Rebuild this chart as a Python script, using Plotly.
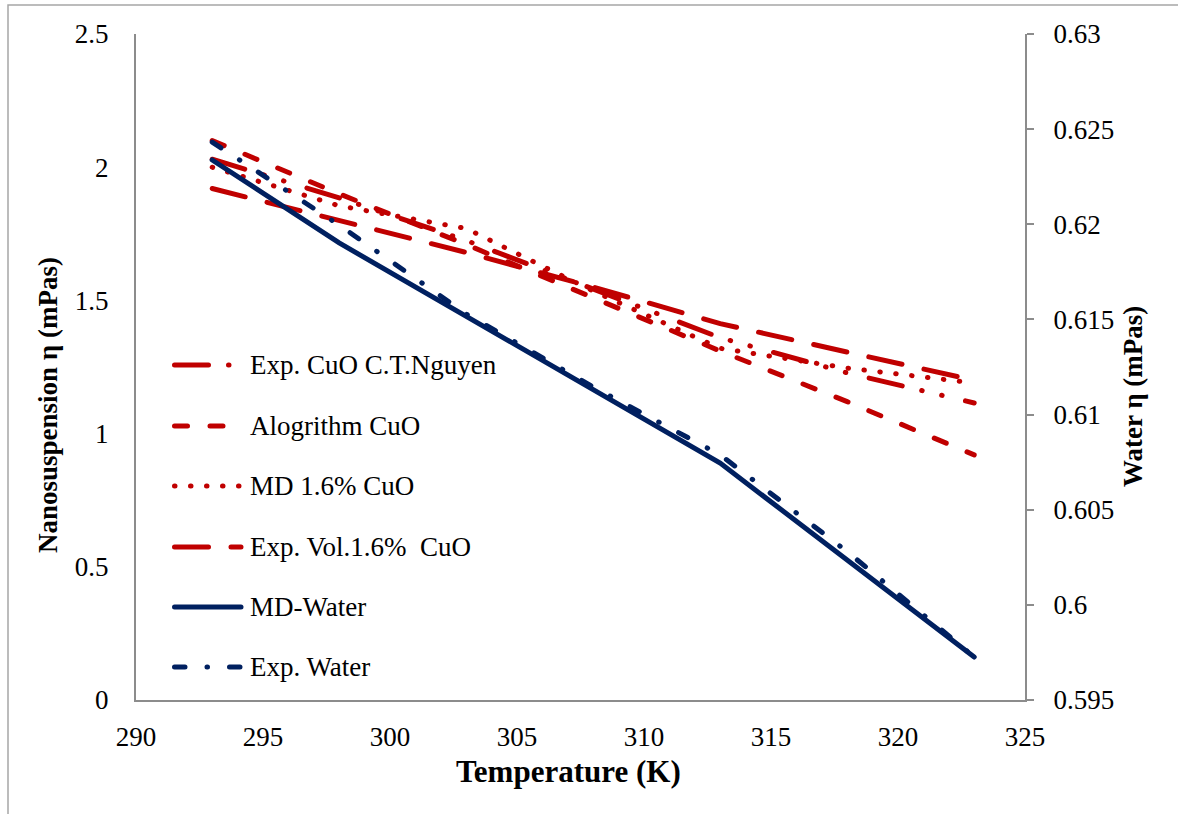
import plotly.graph_objects as go

# Temperatures (K)
temp = [293, 298, 303, 308, 313, 318, 323]
temp_md_water = [293, 298, 313, 323]

# Nanosuspension viscosity (mPas), left axis
exp_cuo_nguyen = [2.03, 1.885, 1.725, 1.54, 1.36, 1.228, 1.115]
algorithm_cuo = [2.10, 1.90, 1.71, 1.51, 1.31, 1.12, 0.92]
md_cuo_16 = [2.00, 1.855, 1.77, 1.535, 1.32, 1.246, 1.19]
exp_vol_cuo_16 = [1.92, 1.80, 1.68, 1.55, 1.413, 1.306, 1.20]

# Water viscosity (mPas), right axis
md_water = [0.62338, 0.61902, 0.60745, 0.59726]
exp_water = [0.62432, 0.61996, 0.61529, 0.61145, 0.60788, 0.60280, 0.59726]

# Axis ticks
x_ticks = [290, 295, 300, 305, 310, 315, 320, 325]
y_ticks = [0, 0.5, 1, 1.5, 2, 2.5]
y_tick_text = ["0", "0.5", "1", "1.5", "2", "2.5"]
y2_ticks = [0.595, 0.6, 0.605, 0.61, 0.615, 0.62, 0.625, 0.63]
y2_tick_text = ["0.595", "0.6", "0.605", "0.61", "0.615", "0.62", "0.625", "0.63"]

RED = "#C00000"
NAVY = "#002060"
GREY = "#8C8C8C"
FONT = "Liberation Serif, Times New Roman, DejaVu Serif, serif"
LW = 5

W, H = 1178, 814
L, R, T, B = 136, 153, 34, 114
PW, PH = W - L - R, H - T - B


def px(x):
    return (x - L) / PW


def py(y):
    return (H - B - y) / PH


styles = {
    "nguyen": dict(color=RED, width=LW, dash="34px,20px,0.5px,20px,0.5px,24px"),
    "algo": dict(color=RED, width=LW, dash="13px,22.5px"),
    "md": dict(color=RED, width=LW, dash="0.5px,15.5px"),
    "expvol": dict(color=RED, width=LW, dash="34px,22.5px"),
    "mdw": dict(color=NAVY, width=LW),
    "expw": dict(color=NAVY, width=LW, dash="10.5px,22px,0.5px,22px"),
}

fig = go.Figure()
fig.add_trace(go.Scatter(x=temp, y=exp_cuo_nguyen, mode="lines", name="Exp. CuO C.T.Nguyen",
                         line=styles["nguyen"]))
fig.add_trace(go.Scatter(x=temp, y=algorithm_cuo, mode="lines", name="Alogrithm CuO",
                         line=styles["algo"]))
fig.add_trace(go.Scatter(x=temp, y=md_cuo_16, mode="lines", name="MD 1.6% CuO",
                         line=styles["md"]))
fig.add_trace(go.Scatter(x=temp, y=exp_vol_cuo_16, mode="lines", name="Exp. Vol.1.6%  CuO",
                         line=styles["expvol"]))
fig.add_trace(go.Scatter(x=temp_md_water, y=md_water, mode="lines", name="MD-Water",
                         line=styles["mdw"], yaxis="y2"))
fig.add_trace(go.Scatter(x=temp, y=exp_water, mode="lines", name="Exp. Water",
                         line=styles["expw"], yaxis="y2"))

# Hand-placed legend: sample line + label per series
legend_rows = [
    ("Exp. CuO C.T.Nguyen", "nguyen", 365),
    ("Alogrithm CuO", "algo", 426),
    ("MD 1.6% CuO", "md", 486),
    ("Exp. Vol.1.6%  CuO", "expvol", 547),
    ("MD-Water", "mdw", 607),
    ("Exp. Water", "expw", 667),
]
shapes = [
    dict(type="rect", xref="paper", yref="paper",
         x0=px(8), x1=px(1185), y0=py(820), y1=py(5),
         line=dict(color="#A6A6A6", width=1.5), layer="below"),
]
annotations = []
for label, key, yc in legend_rows:
    st = styles[key]
    shapes.append(dict(type="line", xref="paper", yref="paper",
                       x0=px(174.5), x1=px(241), y0=py(yc), y1=py(yc),
                       line=dict(color=st["color"], width=st["width"], dash=st.get("dash", "solid"))))
    annotations.append(dict(text=label, xref="paper", yref="paper", x=px(248), y=py(yc),
                            xanchor="left", yanchor="middle", showarrow=False,
                            font=dict(family=FONT, size=27, color="black")))

tick_font = dict(family=FONT, size=27, color="black")

# Axis titles, placed as in the original layout
axis_titles = [
    ("Temperature (K)", 568, 771, 0, 31),
    ("Nanosuspension η (mPas)", 48, 405, -90, 27),
    ("Water η (mPas)", 1133, 397, -90, 27),
]
for text, tx, ty, ang, size in axis_titles:
    annotations.append(dict(text=text, xref="paper", yref="paper", x=px(tx), y=py(ty),
                            xanchor="center", yanchor="middle", showarrow=False,
                            textangle=ang,
                            font=dict(family=FONT, size=size, color="black", weight="bold")))

fig.update_layout(
    width=W, height=H,
    margin=dict(l=L, r=R, t=T, b=B),
    paper_bgcolor="white", plot_bgcolor="white",
    font=dict(family=FONT),
    showlegend=False,
    shapes=shapes, annotations=annotations,
    xaxis=dict(range=[290, 325], tickvals=x_ticks, showgrid=False, zeroline=False,
               showline=True, linecolor=GREY, linewidth=2, ticks="",
               tickfont=tick_font, ticklabelstandoff=12),
    yaxis=dict(range=[0, 2.5], tickvals=y_ticks, ticktext=y_tick_text, showgrid=False,
               zeroline=False, showline=True, linecolor=GREY, linewidth=2, ticks="",
               tickfont=tick_font, ticklabelstandoff=20),
    yaxis2=dict(range=[0.595, 0.63], tickvals=y2_ticks, ticktext=y2_tick_text,
                overlaying="y", side="right", showgrid=False, zeroline=False,
                showline=True, linecolor=GREY, linewidth=2, ticks="outside", ticklen=7,
                tickcolor=GREY, tickwidth=2, tickfont=tick_font, ticklabelstandoff=14),
)

round_caps = """
var gd = document.getElementsByClassName('plotly-graph-div')[0];
function roundCaps() {
  gd.querySelectorAll('.scatterlayer path.js-line, .shapelayer path').forEach(function (p) {
    p.style.strokeLinecap = 'round';
  });
}
roundCaps();
gd.on('plotly_afterplot', roundCaps);
"""

fig.write_html("out.html", post_script=round_caps)
